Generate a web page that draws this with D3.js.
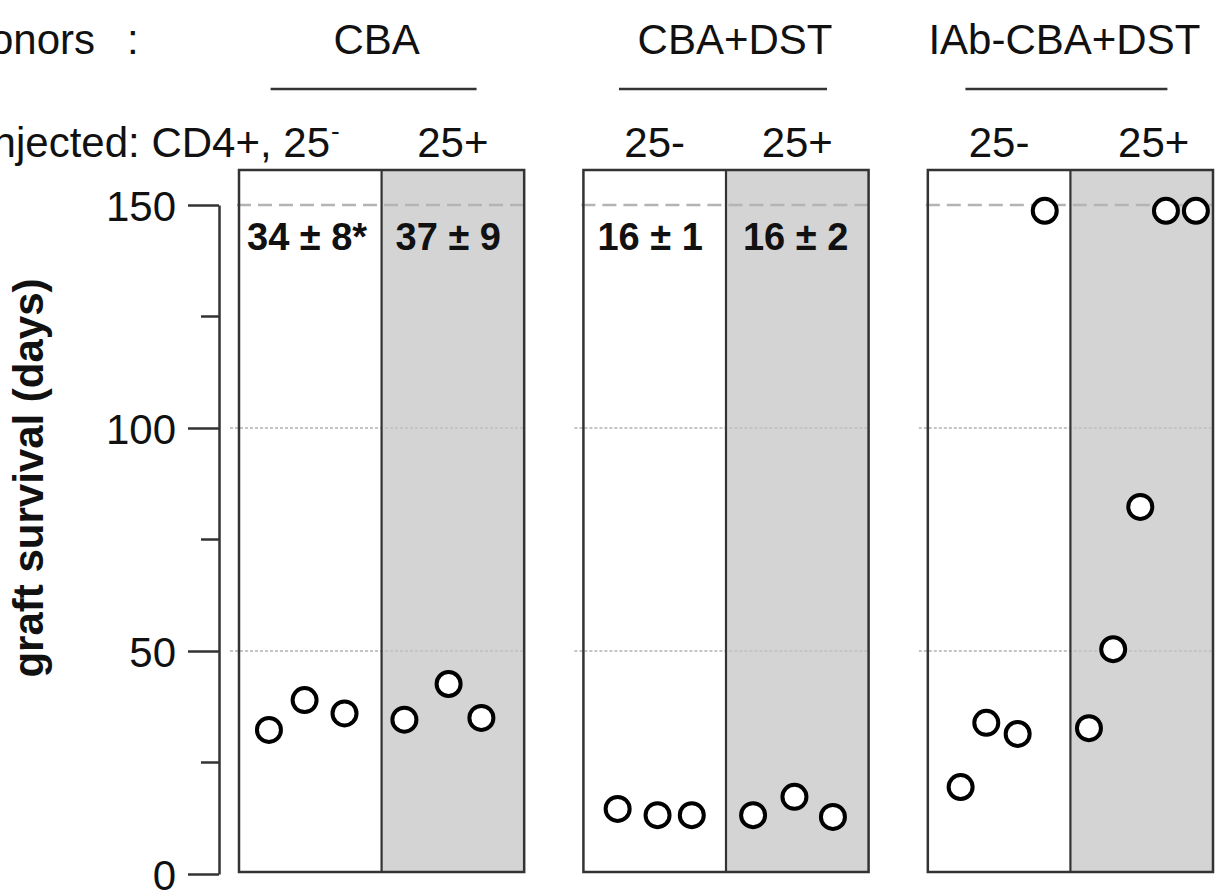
<!DOCTYPE html>
<html>
<head>
<meta charset="utf-8">
<script src="https://cdn.jsdelivr.net/npm/d3@7"></script>
<style>
  body { margin: 0; background: #fff; }
  svg { display: block; font-family: "Liberation Sans", Arial, Helvetica, sans-serif; }
</style>
</head>
<body>
<svg id="svg" width="1222" height="895"></svg>
<script>
// donor groups and injected cell labels
var donors = ["CBA", "CBA+DST", "IAb-CBA+DST"];
var cellLabels = ["25-", "25+"];
var yTicks = [0, 50, 100, 150];
var yMinorTicks = [25, 75, 125];
var refLines = [50, 100];

// graft survival (days) per group
var cbaNeg = [32.3, 39.0, 36.0];
var cbaPos = [34.6, 42.6, 35.0];
var dstNeg = [14.6, 13.2, 13.2];
var dstPos = [13.2, 17.3, 12.8];
var iabNeg = [19.5, 33.9, 31.4, 148.7];
var iabPos = [32.7, 50.4, 82.3, 148.7, 148.7];

// jittered x position of each point (1 = 25-, 2 = 25+)
var cbaNegX = [0.71, 0.96, 1.24];
var cbaPosX = [1.66, 1.97, 2.20];
var dstNegX = [0.74, 1.02, 1.26];
var dstPosX = [1.69, 1.98, 2.25];
var iabNegX = [0.73, 0.91, 1.13, 1.32];
var iabPosX = [1.63, 1.80, 1.99, 2.17, 2.38];

// mean ± sd annotations
var statLabels = [["34 ± 8*", "37 ± 9"], ["16 ± 1", "16 ± 2"], null];

var groups = [
  {donor: "CBA", sets: [{y: cbaNeg, x: cbaNegX}, {y: cbaPos, x: cbaPosX}]},
  {donor: "CBA+DST", sets: [{y: dstNeg, x: dstNegX}, {y: dstPos, x: dstPosX}]},
  {donor: "IAb-CBA+DST", sets: [{y: iabNeg, x: iabNegX}, {y: iabPos, x: iabPosX}]}
];

var svg = d3.select("#svg");
var dark = "#333";

var yScale = d3.scaleLinear().domain([0, 150]).range([874, 205]);
var panelTop = 170, panelBottom = 872;

var panelScale = d3.scaleBand()
    .domain(donors)
    .range([239, 1213])
    .paddingInner(0.172);

var xIn = d3.scaleLinear().domain([0.5, 2.5]).range([0, panelScale.bandwidth()]);

// y-axis
var axisX = 219;
var yAxis = svg.append("g")
    .attr("transform", "translate(" + axisX + ",0)")
    .call(d3.axisLeft(yScale).tickValues(yTicks).tickSize(31).tickPadding(12).tickSizeOuter(0));
yAxis.select(".domain").attr("stroke", dark).attr("stroke-width", 2.5);
yAxis.selectAll(".tick line").attr("stroke", dark).attr("stroke-width", 2.5);
yAxis.selectAll(".tick text")
    .attr("font-size", 42)
    .attr("fill", "#111")
    .attr("font-family", "Liberation Sans, Arial, sans-serif")
    .attr("dy", "0.36em");

svg.append("g")
    .attr("transform", "translate(" + axisX + ",0)")
    .selectAll("line").data(yMinorTicks).enter()
    .append("line")
    .attr("x1", -18).attr("x2", 0)
    .attr("y1", function(d) { return yScale(d); })
    .attr("y2", function(d) { return yScale(d); })
    .attr("stroke", dark).attr("stroke-width", 2.5);

svg.append("text")
    .attr("transform", "translate(43," + 478 + ") rotate(-90)")
    .attr("text-anchor", "middle")
    .attr("font-size", 42)
    .attr("font-weight", "bold")
    .attr("fill", "#111")
    .text("graft survival (days)");

// panels
var panels = svg.selectAll(".panel").data(groups).enter()
    .append("g")
    .attr("class", "panel")
    .attr("transform", function(d) { return "translate(" + panelScale(d.donor) + ",0)"; });

var half = xIn(1.5);
var bw = panelScale.bandwidth();

panels.append("rect")
    .attr("x", half).attr("y", panelTop)
    .attr("width", bw - half).attr("height", panelBottom - panelTop)
    .attr("fill", "#d4d4d4");

// reference lines
panels.each(function() {
  var g = d3.select(this);
  g.selectAll(".ref").data(refLines).enter()
    .append("line")
    .attr("x1", -9).attr("x2", bw)
    .attr("y1", function(d) { return yScale(d); })
    .attr("y2", function(d) { return yScale(d); })
    .attr("stroke", "#c4c4c4").attr("stroke-width", 2)
    .attr("stroke-dasharray", "3,2");
  g.append("line")
    .attr("x1", -2).attr("x2", bw + 2)
    .attr("y1", yScale(150)).attr("y2", yScale(150))
    .attr("stroke", "#b4b4b4").attr("stroke-width", 2.5)
    .attr("stroke-dasharray", "14,7");
});

panels.append("rect")
    .attr("x", 0).attr("y", panelTop)
    .attr("width", bw).attr("height", panelBottom - panelTop)
    .attr("fill", "none").attr("stroke", dark).attr("stroke-width", 2.5);

panels.append("line")
    .attr("x1", half).attr("x2", half)
    .attr("y1", panelTop).attr("y2", panelBottom)
    .attr("stroke", dark).attr("stroke-width", 2.2);

// stat annotations
panels.each(function(d, i) {
  if (!statLabels[i]) return;
  var g = d3.select(this);
  g.append("text").attr("x", i === 0 ? 8 : 14).attr("y", 250)
    .attr("font-size", 38).attr("font-weight", "bold").attr("fill", "#111")
    .text(statLabels[i][0]);
  g.append("text").attr("x", half + (i === 0 ? 14 : 17)).attr("y", 250)
    .attr("font-size", 38).attr("font-weight", "bold").attr("fill", "#111")
    .text(statLabels[i][1]);
});

// points
panels.each(function(d) {
  var pts = [];
  d.sets.forEach(function(s) {
    s.y.forEach(function(v, k) { pts.push({x: s.x[k], y: v}); });
  });
  d3.select(this).selectAll("circle").data(pts).enter()
    .append("circle")
    .attr("cx", function(p) { return xIn(p.x); })
    .attr("cy", function(p) { return yScale(p.y); })
    .attr("r", 12)
    .attr("fill", "#fff")
    .attr("stroke", "#000")
    .attr("stroke-width", 4);
});

// header rows
var head = svg.append("g").attr("fill", "#111").attr("font-size", 42);
head.append("text").attr("x", 95).attr("y", 54).attr("text-anchor", "end").text("Donors");
head.append("text").attr("x", 127).attr("y", 54).text(":");

var headOffsets = [-5, 9, -6];
var lineSpans = [[-111, 95], [-107, 101], [-105, 97]];
donors.forEach(function(name, i) {
  var cx = panelScale(name) + bw / 2;
  head.append("text").attr("x", cx + headOffsets[i]).attr("y", 54)
    .attr("text-anchor", "middle").text(name);
  head.append("line")
    .attr("x1", cx + lineSpans[i][0]).attr("x2", cx + lineSpans[i][1])
    .attr("y1", 89).attr("y2", 89)
    .attr("stroke", dark).attr("stroke-width", 2.5);
  cellLabels.forEach(function(lab, j) {
    if (i === 0 && j === 0) return;
    head.append("text")
      .attr("x", panelScale(name) + xIn(j + 1) + (i === 2 && j === 1 ? 12 : 0))
      .attr("y", 157)
      .attr("text-anchor", "middle")
      .text(lab);
  });
});

head.append("text").attr("x", 330).attr("y", 157).attr("text-anchor", "end")
  .text("Injected: CD4+, 25");
head.append("text").attr("x", 331).attr("y", 140).attr("font-size", 26).text("-");
</script>
</body>
</html>
